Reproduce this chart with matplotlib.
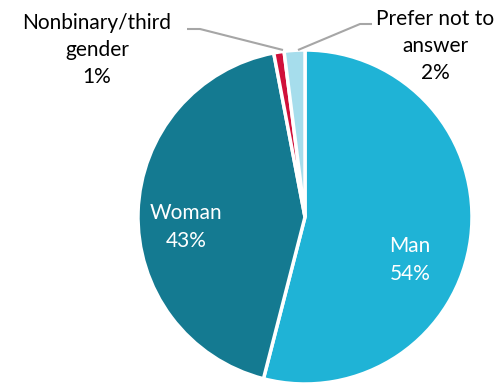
import matplotlib
matplotlib.use("Agg")
import matplotlib.pyplot as plt

# survey shares, clockwise from 12 o'clock
labels = ["Man", "Woman", "Nonbinary/third\ngender", "Prefer not to\nanswer"]
shares = [54, 43, 1, 2]
colors = ["#1FB3D6", "#147A91", "#D0103A", "#A6DDEC"]

plt.rcParams["font.family"] = ["Lato", "DejaVu Sans"]

W, H = 503, 387
fig = plt.figure(figsize=(W / 100, H / 100), dpi=100)
ax = fig.add_axes([0, 0, 1, 1])

cx, cy, r = 305, H - 217, 167
wedges, _ = ax.pie(
    shares, colors=colors, startangle=90, counterclock=False,
    center=(cx, cy), radius=r, frame=True,
    wedgeprops=dict(edgecolor="white", linewidth=2.5),
)
ax.set_xlim(0, W)
ax.set_ylim(0, H)
ax.set_aspect("equal")
ax.axis("off")

fs = 15
# labels inside the two big slices
ax.text(410, H - 260, f"{labels[0]}\n{shares[0]}%", color="white", fontsize=fs,
        ha="center", va="center", linespacing=1.45)
ax.text(186, H - 227, f"{labels[1]}\n{shares[1]}%", color="white", fontsize=fs,
        ha="center", va="center", linespacing=1.45)

# outside labels with leader lines
ax.text(97, H - 50, f"{labels[2]}\n{shares[2]}%", color="black", fontsize=fs,
        ha="center", va="center", linespacing=1.45)
ax.text(435, H - 46, f"{labels[3]}\n{shares[3]}%", color="black", fontsize=fs,
        ha="center", va="center", linespacing=1.45)

lead = dict(color="#A6A6A6", linewidth=1.5, solid_capstyle="butt")
ax.plot([187, 200, 283], [H - 29, H - 29, H - 50], **lead)
ax.plot([372, 360, 298], [H - 24, H - 24, H - 50], **lead)

fig.savefig("out.png", dpi=100)
